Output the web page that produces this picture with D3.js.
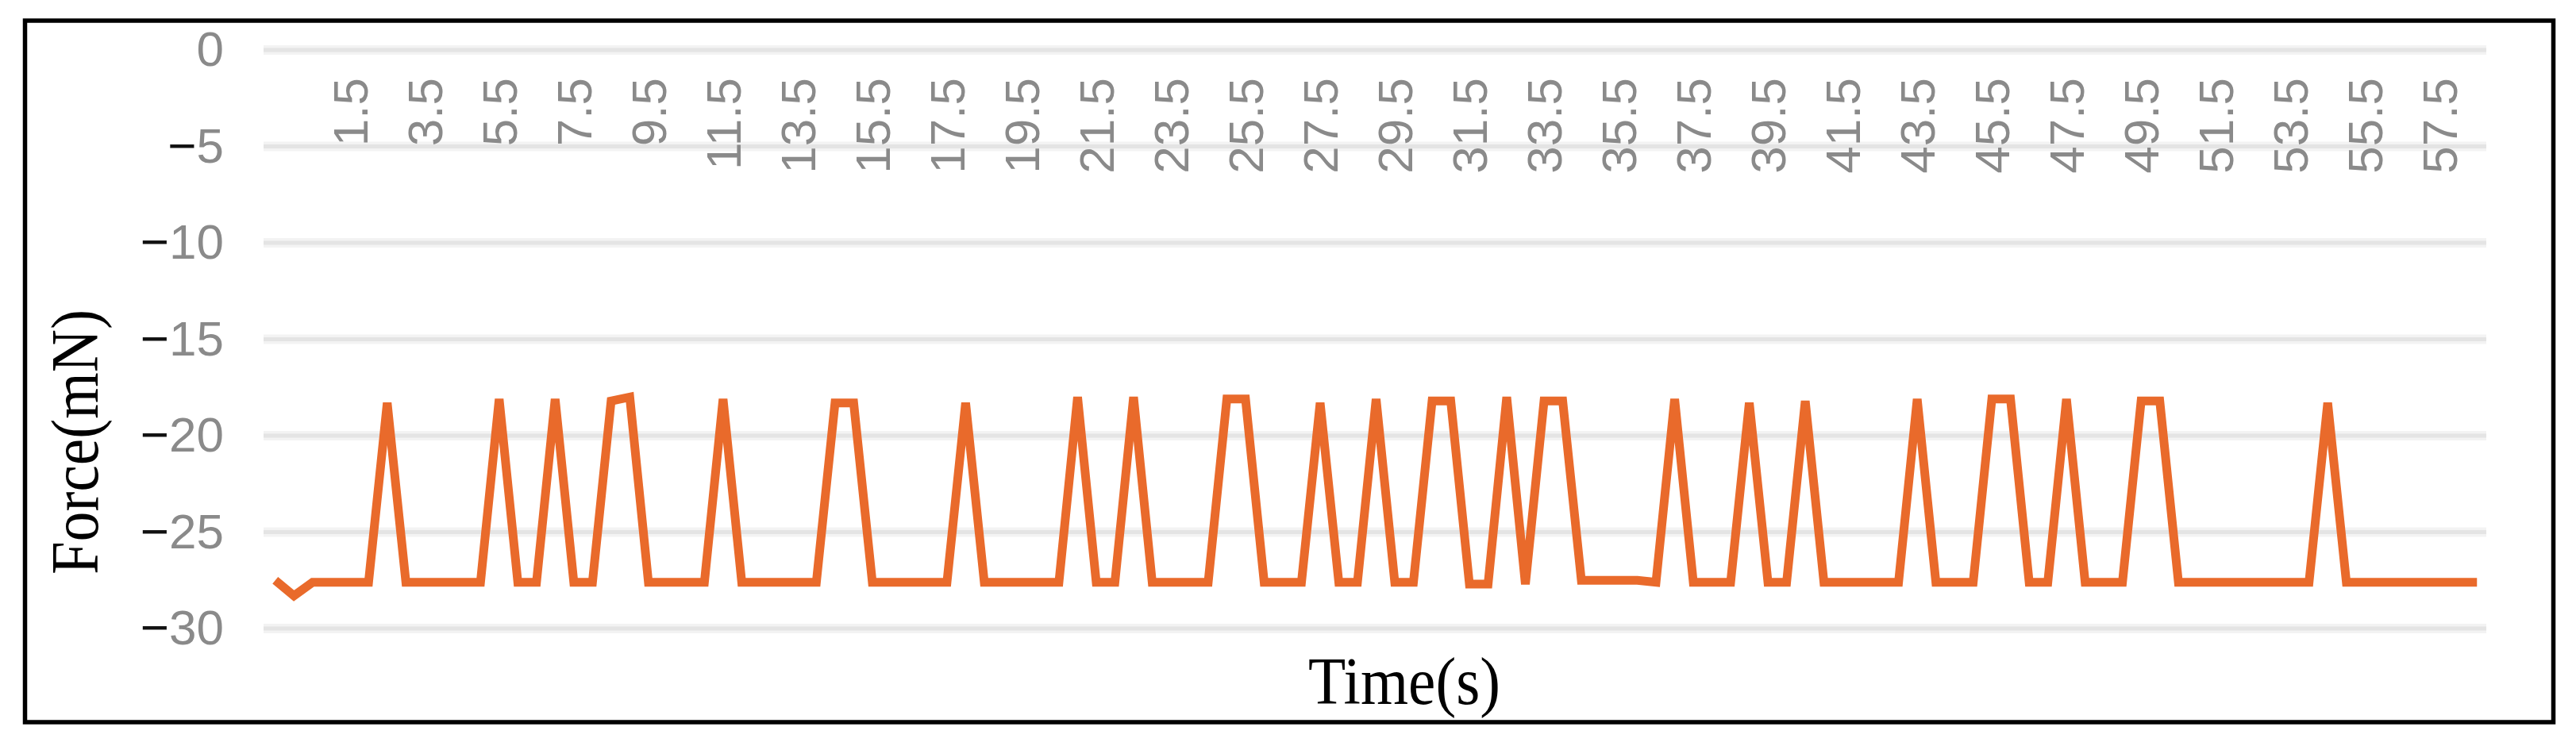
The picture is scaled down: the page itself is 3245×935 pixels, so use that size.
<!DOCTYPE html>
<html>
<head>
<meta charset="utf-8">
<title>Force vs time</title>
<script src="https://cdn.jsdelivr.net/npm/d3@7"></script>
<style>
    html, body { margin: 0; padding: 0; background: #fff; }
    svg { display: block; }
</style>
</head>
<body>
<div id="chart"></div>
<script>
// Force readings (mN), one point every 0.5 s
const forceValues = [
    -27.5, -28.3, -27.6, -27.6, -27.6, -27.6, -18.3, -27.6, -27.6, -27.6,
    -27.6, -27.6, -18.1, -27.6, -27.6, -18.1, -27.6, -27.6, -18.2, -18.0,
    -27.6, -27.6, -27.6, -27.6, -18.1, -27.6, -27.6, -27.6, -27.6, -27.6,
    -18.3, -18.3, -27.6, -27.6, -27.6, -27.6, -27.6, -18.3, -27.6, -27.6,
    -27.6, -27.6, -27.6, -18.0, -27.6, -27.6, -18.0, -27.6, -27.6, -27.6,
    -27.6, -18.1, -18.1, -27.6, -27.6, -27.6, -18.3, -27.6, -27.6, -18.1,
    -27.6, -27.6, -18.2, -18.2, -27.7, -27.7, -18.0, -27.7, -18.2, -18.2,
    -27.5, -27.5, -27.5, -27.5, -27.6, -18.1, -27.6, -27.6, -27.6, -18.3,
    -27.6, -27.6, -18.2, -27.6, -27.6, -27.6, -27.6, -27.6, -18.1, -27.6,
    -27.6, -27.6, -18.1, -18.1, -27.6, -27.6, -18.1, -27.6, -27.6, -27.6,
    -18.2, -18.2, -27.6, -27.6, -27.6, -27.6, -27.6, -27.6, -27.6, -27.6,
    -18.3, -27.6, -27.6, -27.6, -27.6, -27.6, -27.6, -27.6, -27.6
];

// time of each reading (s)
const timeStep = 0.5;
const times = forceValues.map((_, i) => (i - 1) * timeStep);

// category labels shown on the time axis
const timeLabels = [
    "1.5", "3.5", "5.5", "7.5", "9.5", "11.5", "13.5", "15.5", "17.5", "19.5",
    "21.5", "23.5", "25.5", "27.5", "29.5", "31.5", "33.5", "35.5", "37.5", "39.5",
    "41.5", "43.5", "45.5", "47.5", "49.5", "51.5", "53.5", "55.5", "57.5"
];

// force axis ticks
const forceTicks = [0, -5, -10, -15, -20, -25, -30];

window.onload = function () {
    drawChart();
};

// Draws the whole figure
function drawChart() {
    const width = 3245;
    const height = 935;

    const svg = d3.select('#chart').append('svg')
        .attr('width', width)
        .attr('height', height);

    const x = d3.scalePoint()
        .domain(times)
        .range([335, 3132])
        .padding(0.5);

    const y = d3.scaleLinear()
        .domain([-30, 0])
        .range([792, 63]);

    // Horizontal gridlines (soft edge + core)
    const grid = svg.append('g');
    forceTicks.forEach(v => {
        grid.append('line')
            .attr('x1', 332).attr('x2', 3132)
            .attr('y1', y(v)).attr('y2', y(v))
            .attr('stroke', '#f3f3f3')
            .attr('stroke-width', 12);
        grid.append('line')
            .attr('x1', 332).attr('x2', 3132)
            .attr('y1', y(v)).attr('y2', y(v))
            .attr('stroke', '#e4e4e4')
            .attr('stroke-width', 5);
    });

    // Y axis labels, minus sign drawn dark like the original
    const yAxis = svg.append('g')
        .attr('transform', 'translate(332,0)')
        .call(d3.axisLeft(y).tickValues(forceTicks).tickSize(0).tickPadding(50));
    yAxis.select('.domain').remove();
    yAxis.selectAll('text')
        .attr('font-family', '"Liberation Sans", Arial, sans-serif')
        .attr('font-size', 62)
        .attr('fill', '#8a8a8a')
        .each(function (d) {
            const t = d3.select(this);
            t.text(null);
            if (d < 0) {
                t.append('tspan').attr('fill', '#111').text('\u2212');
            }
            t.append('tspan').text(Math.abs(d));
        });

    // Time axis labels hang under the zero line, rotated
    const xAxis = svg.append('g')
        .attr('transform', `translate(0,${y(0)})`)
        .call(d3.axisBottom(x)
            .tickValues(timeLabels.map(Number))
            .tickFormat((d, i) => timeLabels[i])
            .tickSize(0));
    xAxis.select('.domain').remove();
    xAxis.selectAll('text')
        .attr('font-family', '"Liberation Sans", Arial, sans-serif')
        .attr('font-size', 62)
        .attr('fill', '#8a8a8a')
        .attr('transform', 'rotate(-90)')
        .attr('x', -35)
        .attr('y', 0)
        .attr('dy', '0.35em')
        .style('text-anchor', 'end');

    // Force line
    const line = d3.line()
        .x((d, i) => x(times[i]))
        .y(d => y(d));

    svg.append('path')
        .datum(forceValues)
        .attr('d', line)
        .attr('fill', 'none')
        .attr('stroke', '#e96a2b')
        .attr('stroke-width', 11);

    // Axis titles
    svg.append('text')
        .attr('x', 1648)
        .attr('y', 887)
        .attr('font-family', '"Liberation Serif", "Times New Roman", serif')
        .attr('font-size', 84)
        .attr('textLength', 242)
        .attr('lengthAdjust', 'spacingAndGlyphs')
        .attr('fill', '#000')
        .text('Time(s)');

    svg.append('text')
        .attr('transform', 'translate(123,724) rotate(-90)')
        .attr('font-family', '"Liberation Serif", "Times New Roman", serif')
        .attr('font-size', 84)
        .attr('textLength', 334)
        .attr('lengthAdjust', 'spacingAndGlyphs')
        .attr('fill', '#000')
        .text('Force(mN)');

    // Frame around the figure
    svg.append('rect')
        .attr('x', 31.5)
        .attr('y', 26)
        .attr('width', 3185)
        .attr('height', 884)
        .attr('fill', 'none')
        .attr('stroke', '#000')
        .attr('stroke-width', 5.5);
}
</script>
</body>
</html>
